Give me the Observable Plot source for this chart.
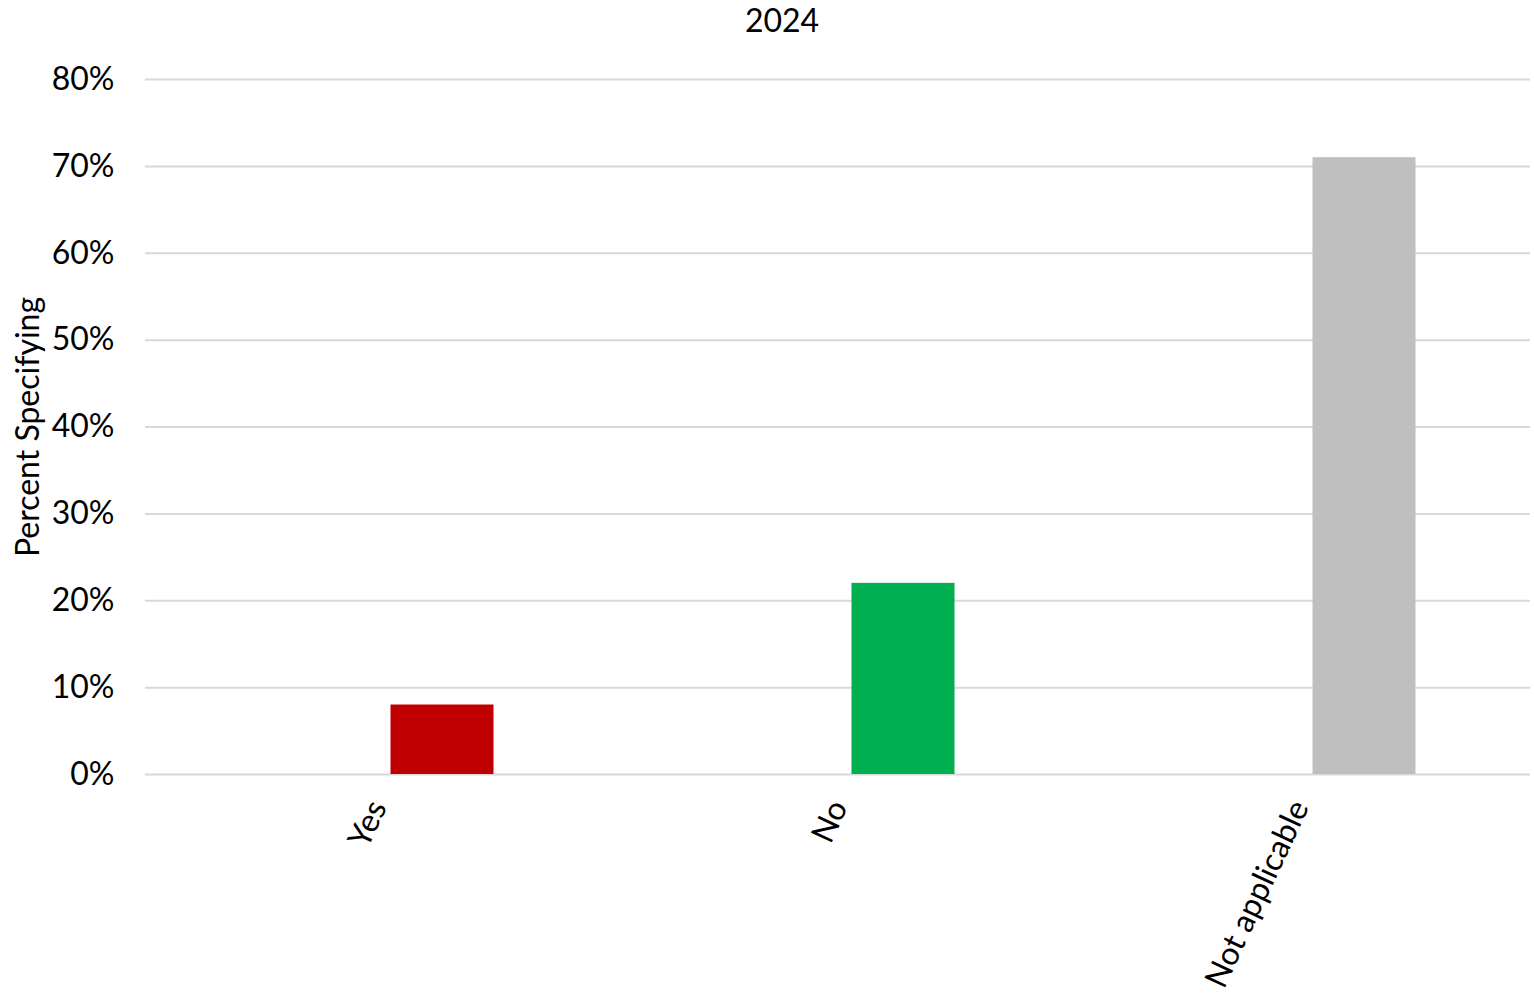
<!DOCTYPE html>
<html>
<head>
<meta charset="utf-8">
<script src="https://cdn.jsdelivr.net/npm/d3@7"></script>
<script src="https://cdn.jsdelivr.net/npm/@observablehq/plot@0.6"></script>
<style>
  html, body { margin: 0; padding: 0; background: #fff; }
  #wrap { position: relative; width: 1534px; height: 993px; }
  #title { position: absolute; left: 0; top: 0px; width: 1564px; text-align: center;
           font-family: Lato, sans-serif; font-size: 32px; color: #000; }
</style>
</head>
<body>
<div id="wrap">
  <div id="title">2024</div>
  <div id="chart"></div>
</div>
<script>
const categories = ["Yes", "No", "Not applicable"];
const values = [0.08, 0.22, 0.71];
const colors = ["#C00000", "#00B050", "#BFBFBF"];
const yTicks = [0, 0.1, 0.2, 0.3, 0.4, 0.5, 0.6, 0.7, 0.8];
const yLabel = "Percent Specifying";

const data = categories.map((c, i) => ({category: c, value: values[i], color: colors[i]}));

const chart = Plot.plot({
  width: 1534,
  height: 993,
  marginLeft: 145,
  marginRight: 4,
  marginTop: 79,
  marginBottom: 219,
  style: {fontFamily: "Lato, sans-serif", fontSize: "32px", color: "#000", background: "#fff", overflow: "visible"},
  x: {domain: categories, padding: 0, axis: null},
  y: {domain: [0, 0.8], axis: null},
  marks: [
    Plot.ruleY(yTicks, {stroke: "#d9d9d9", strokeWidth: 2}),
    Plot.barY(data, {x: "category", y: "value", fill: "color", insetLeft: 244.5, insetRight: 113.5}),
    Plot.axisY({ticks: yTicks, tickFormat: d3.format(".0%"), tickSize: 0, tickPadding: 31, label: null, fontSize: 32}),
    Plot.axisX({tickSize: 0, tickRotate: -65, tickPadding: 28, label: null, fontSize: 32, dx: 1}),
    Plot.text([yLabel], {frameAnchor: "left", rotate: -90, textAnchor: "middle", dx: -117, fontSize: 32, text: d => d})
  ]
});
document.getElementById("chart").appendChild(chart);
</script>
</body>
</html>
